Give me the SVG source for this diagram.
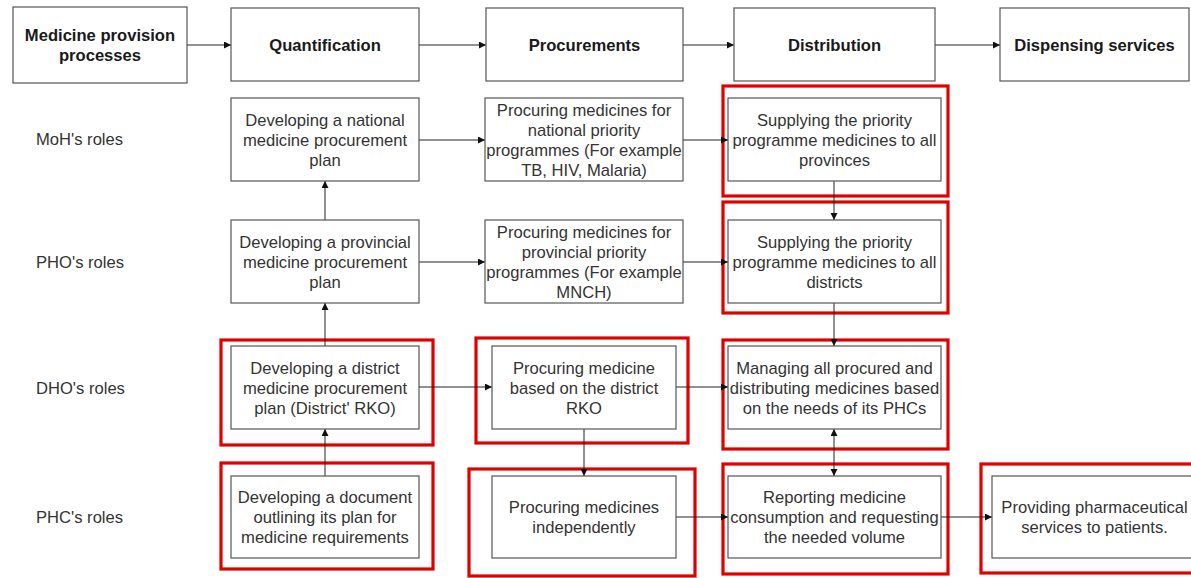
<svg xmlns="http://www.w3.org/2000/svg" width="1191" height="578" viewBox="0 0 1191 578">
<style>
.box{fill:#fff;stroke:#555;stroke-width:1.2}
.hl{fill:none;stroke:#e00000;stroke-width:3.2}
.t{font-family:"Liberation Sans",Arial,sans-serif;font-size:16.6px;fill:#333;text-anchor:middle}
.h{font-family:"Liberation Sans",Arial,sans-serif;font-size:16.6px;font-weight:bold;fill:#1a1a1a;text-anchor:middle}
.lb{font-family:"Liberation Sans",Arial,sans-serif;font-size:16.6px;fill:#333}
.c{fill:none;stroke:#222;stroke-width:1}
</style>
<defs>
<marker id="ah" markerUnits="userSpaceOnUse" markerWidth="8" markerHeight="8" refX="7" refY="3.5" orient="auto-start-reverse">
<path d="M0,0 L7,3.5 L0,7 z" fill="#111"/>
</marker>
</defs>
<rect width="1191" height="578" fill="#fff"/>

<g id="highlights">
<rect class="hl" x="723" y="86" width="225" height="110"/>
<rect class="hl" x="723" y="202" width="225" height="111"/>
<rect class="hl" x="221" y="340" width="212" height="105"/>
<rect class="hl" x="476" y="338" width="212" height="105"/>
<rect class="hl" x="723" y="340" width="225" height="109"/>
<rect class="hl" x="221" y="463" width="212" height="106"/>
<rect class="hl" x="469" y="469" width="226" height="107"/>
<rect class="hl" x="723" y="464" width="225" height="110"/>
<rect class="hl" x="981" y="464" width="224" height="109"/>
</g>

<g id="connectors">
<line class="c" x1="187" y1="45" x2="231" y2="45" marker-end="url(#ah)"/>
<line class="c" x1="419" y1="45" x2="486" y2="45" marker-end="url(#ah)"/>
<line class="c" x1="683" y1="45" x2="734" y2="45" marker-end="url(#ah)"/>
<line class="c" x1="935" y1="45" x2="1000" y2="45" marker-end="url(#ah)"/>
<line class="c" x1="325" y1="220" x2="325" y2="181" marker-end="url(#ah)"/>
<line class="c" x1="325" y1="346" x2="325" y2="303" marker-end="url(#ah)"/>
<line class="c" x1="325" y1="476" x2="325" y2="429" marker-end="url(#ah)"/>
<line class="c" x1="419" y1="140" x2="485" y2="140" marker-end="url(#ah)"/>
<line class="c" x1="419" y1="262" x2="485" y2="262" marker-end="url(#ah)"/>
<line class="c" x1="683" y1="140" x2="728" y2="140" marker-end="url(#ah)"/>
<line class="c" x1="683" y1="262" x2="728" y2="262" marker-end="url(#ah)"/>
<line class="c" x1="834" y1="181" x2="834" y2="220" marker-end="url(#ah)"/>
<line class="c" x1="834" y1="303" x2="834" y2="346" marker-end="url(#ah)"/>
<line class="c" x1="834" y1="429" x2="834" y2="476" marker-start="url(#ah)" marker-end="url(#ah)"/>
<line class="c" x1="419" y1="387" x2="492" y2="387" marker-end="url(#ah)"/>
<line class="c" x1="676" y1="387" x2="728" y2="387" marker-end="url(#ah)"/>
<line class="c" x1="584" y1="429" x2="584" y2="476" marker-end="url(#ah)"/>
<line class="c" x1="676" y1="517" x2="728" y2="517" marker-end="url(#ah)"/>
<line class="c" x1="941" y1="517" x2="992" y2="517" marker-end="url(#ah)"/>
</g>

<g id="hdr-medicine"><rect class="box" x="13" y="7" width="174" height="76"/>
<text class="h" x="100" y="41">Medicine provision</text><text class="h" x="100" y="61">processes</text></g>
<g id="hdr-quant"><rect class="box" x="231" y="8" width="188" height="73"/><text class="h" x="325" y="51">Quantification</text></g>
<g id="hdr-proc"><rect class="box" x="486" y="8" width="197" height="73"/><text class="h" x="584.5" y="51">Procurements</text></g>
<g id="hdr-dist"><rect class="box" x="734" y="8" width="201" height="73"/><text class="h" x="834.5" y="51">Distribution</text></g>
<g id="hdr-disp"><rect class="box" x="1000" y="8" width="189" height="73"/><text class="h" x="1094.5" y="51">Dispensing services</text></g>

<g id="labels">
<text class="lb" x="36" y="145">MoH's roles</text>
<text class="lb" x="36" y="268">PHO's roles</text>
<text class="lb" x="36" y="394">DHO's roles</text>
<text class="lb" x="36" y="523">PHC's roles</text>
</g>

<g id="moh-quant"><rect class="box" x="231" y="98" width="188" height="83"/>
<text class="t" x="325" y="126">Developing a national</text><text class="t" x="325" y="146">medicine procurement</text><text class="t" x="325" y="166">plan</text></g>
<g id="moh-proc"><rect class="box" x="485" y="98" width="198" height="83"/>
<text class="t" x="584" y="116">Procuring medicines for</text><text class="t" x="584" y="136">national priority</text><text class="t" x="584" y="156">programmes (For example</text><text class="t" x="584" y="176">TB, HIV, Malaria)</text></g>
<g id="moh-dist"><rect class="box" x="728" y="98" width="213" height="83"/>
<text class="t" x="834.5" y="126">Supplying the priority</text><text class="t" x="834.5" y="146">programme medicines to all</text><text class="t" x="834.5" y="166">provinces</text></g>

<g id="pho-quant"><rect class="box" x="231" y="220" width="188" height="83"/>
<text class="t" x="325" y="248">Developing a provincial</text><text class="t" x="325" y="268">medicine procurement</text><text class="t" x="325" y="288">plan</text></g>
<g id="pho-proc"><rect class="box" x="485" y="220" width="198" height="83"/>
<text class="t" x="584" y="238">Procuring medicines for</text><text class="t" x="584" y="258">provincial priority</text><text class="t" x="584" y="278">programmes (For example</text><text class="t" x="584" y="298">MNCH)</text></g>
<g id="pho-dist"><rect class="box" x="728" y="220" width="213" height="83"/>
<text class="t" x="834.5" y="248">Supplying the priority</text><text class="t" x="834.5" y="268">programme medicines to all</text><text class="t" x="834.5" y="288">districts</text></g>

<g id="dho-quant"><rect class="box" x="231" y="346" width="188" height="83"/>
<text class="t" x="325" y="374">Developing a district</text><text class="t" x="325" y="394">medicine procurement</text><text class="t" x="325" y="414">plan (District' RKO)</text></g>
<g id="dho-proc"><rect class="box" x="492" y="346" width="184" height="83"/>
<text class="t" x="584" y="374">Procuring medicine</text><text class="t" x="584" y="394">based on the district</text><text class="t" x="584" y="414">RKO</text></g>
<g id="dho-dist"><rect class="box" x="728" y="346" width="213" height="83"/>
<text class="t" x="834.5" y="374">Managing all procured and</text><text class="t" x="834.5" y="394">distributing medicines based</text><text class="t" x="834.5" y="414">on the needs of its PHCs</text></g>

<g id="phc-quant"><rect class="box" x="231" y="476" width="188" height="82"/>
<text class="t" x="325" y="503">Developing a document</text><text class="t" x="325" y="523">outlining its plan for</text><text class="t" x="325" y="543">medicine requirements</text></g>
<g id="phc-proc"><rect class="box" x="492" y="476" width="184" height="82"/>
<text class="t" x="584" y="513">Procuring medicines</text><text class="t" x="584" y="533">independently</text></g>
<g id="phc-dist"><rect class="box" x="728" y="476" width="213" height="82"/>
<text class="t" x="834.5" y="503">Reporting medicine</text><text class="t" x="834.5" y="523">consumption and requesting</text><text class="t" x="834.5" y="543">the needed volume</text></g>
<g id="phc-disp"><rect class="box" x="992" y="476" width="205" height="82"/>
<text class="t" x="1094.5" y="513">Providing pharmaceutical</text><text class="t" x="1094.5" y="533">services to patients.</text></g>
</svg>
